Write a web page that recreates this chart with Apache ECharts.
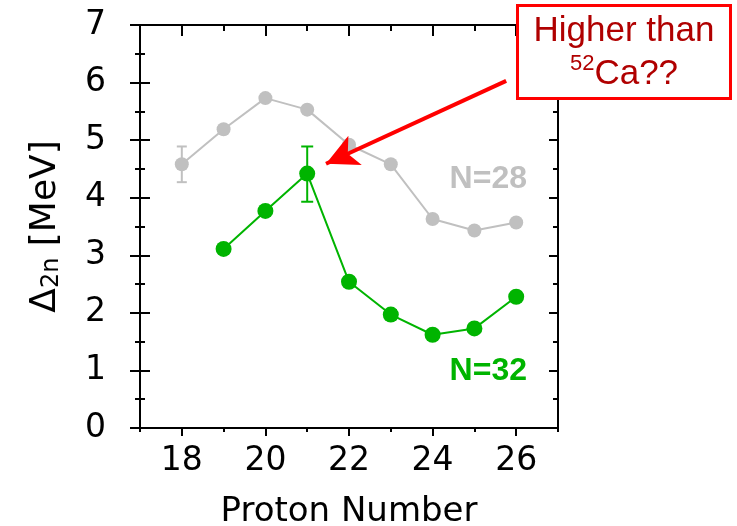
<!DOCTYPE html>
<html><head><meta charset="utf-8">
<script src="https://cdn.jsdelivr.net/npm/echarts@6/dist/echarts.min.js"></script>
<style>html,body{margin:0;padding:0;background:#fff}#c{width:737px;height:526px}</style>
</head><body><div id="c"></div>
<script>
// Data
const protonsN28 = [18, 19, 20, 21, 22, 23, 24, 25, 26];
const deltaN28 = [4.58, 5.19, 5.73, 5.53, 4.92, 4.58, 3.63, 3.43, 3.57];
const errLoN28 = [0.31, 0, 0, 0, 0, 0, 0, 0, 0];
const errHiN28 = [0.31, 0, 0, 0, 0, 0, 0, 0, 0];
const protonsN32 = [19, 20, 21, 22, 23, 24, 25, 26];
const deltaN32 = [3.11, 3.77, 4.42, 2.54, 1.97, 1.62, 1.73, 2.28];
const errLoN32 = [0.06, 0.05, 0.49, 0.06, 0.08, 0.04, 0.04, 0.03];
const errHiN32 = [0.06, 0.05, 0.47, 0.06, 0.08, 0.04, 0.04, 0.03];
const xTickCats = ['17', '18', '19', '20', '21', '22', '23', '24', '25', '26', '27'];
const arrowFrom = [25.76, 6.03];
const arrowTo = [21.45, 4.59];

const GRAY = '#c0c0c0', GREEN = '#00b400', RED = '#ff0000', DARKRED = '#b00000';
const FONT = 'DejaVu Sans';

function pts(xs, ys) { return xs.map((x, i) => [x, ys[i]]); }
function errData(xs, ys, lo, hi) { return xs.map((x, i) => [x, ys[i] - lo[i], ys[i] + hi[i]]); }
function errSeries(data, color, w) {
  return {
    type: 'custom', xAxisIndex: 0, yAxisIndex: 0, data: data, z: 3, silent: true,
    renderItem: function (params, api) {
      const x = api.value(0), lo = api.value(1), hi = api.value(2);
      if (hi - lo <= 0) return null;
      const p1 = api.coord([x, lo]), p2 = api.coord([x, hi]);
      const st = { stroke: color, lineWidth: 2 };
      return { type: 'group', children: [
        { type: 'line', shape: { x1: p1[0], y1: p1[1], x2: p2[0], y2: p2[1] }, style: st },
        { type: 'line', shape: { x1: p1[0] - w, y1: p1[1], x2: p1[0] + w, y2: p1[1] }, style: st },
        { type: 'line', shape: { x1: p2[0] - w, y1: p2[1], x2: p2[0] + w, y2: p2[1] }, style: st }
      ]};
    }
  };
}

const tickStyle = { color: '#000', width: 2 };
const axisLine = { show: true, lineStyle: { color: '#000', width: 2 } };
const isMajor = (i) => i % 2 === 1;   // 18, 20, 22, 24, 26
const isMinor = (i) => i % 2 === 0;   // 17, 19, ..., 27
function catAx(pos, showLine, filter, len, inside, extra) {
  return Object.assign({
    type: 'category', data: xTickCats, boundaryGap: false, position: pos,
    splitLine: { show: false },
    axisLine: showLine ? axisLine : { show: false },
    axisTick: { show: true, inside: inside, length: len, interval: filter, lineStyle: tickStyle },
    axisLabel: { show: false }
  }, extra || {});
}
function yAx(pos, showLine, len, inside, extra) {
  return Object.assign({
    type: 'value', min: 0, max: 7, interval: 1, position: pos, splitLine: { show: false },
    axisLine: showLine ? axisLine : { show: false },
    axisTick: { show: true, inside: inside, length: len, lineStyle: tickStyle },
    minorTick: { show: true, splitNumber: 2, length: Math.round(len / 2), lineStyle: tickStyle },
    axisLabel: { show: false }
  }, extra || {});
}

const chart = echarts.init(document.getElementById('c'));
chart.setOption({
  animation: false,
  backgroundColor: '#fff',
  grid: { left: 140, right: 179, top: 25, bottom: 98, outerBoundsMode: 'none', containLabel: false },
  xAxis: [
    { type: 'value', min: 17, max: 27, position: 'bottom', show: false },
    catAx('bottom', true, isMajor, 8, false, {
      axisLabel: { show: true, interval: isMajor, fontSize: 33, fontFamily: FONT, color: '#000', margin: 17 },
      name: 'Proton Number', nameLocation: 'middle', nameGap: 67,
      nameTextStyle: { fontSize: 34, fontFamily: FONT, color: '#000' }
    }),
    catAx('bottom', false, isMinor, 4, false),
    catAx('top', true, isMajor, 11, true),
    catAx('top', false, isMinor, 6, true)
  ],
  yAxis: [
    yAx('left', true, 10, false, {
      axisLabel: { show: true, fontSize: 33, fontFamily: FONT, color: '#000', margin: 34 },
      name: '{d|Δ}{s|2n}{d| [MeV]}', nameLocation: 'middle', nameGap: 76, nameRotate: 90,
      nameTextStyle: {
        fontSize: 36, fontFamily: FONT, color: '#000',
        rich: {
          d: { fontSize: 36, fontFamily: FONT, color: '#000', lineHeight: 36, verticalAlign: 'top' },
          s: { fontSize: 24, fontFamily: FONT, color: '#000', lineHeight: 24, verticalAlign: 'bottom', padding: [16, 0, 0, 0] }
        }
      }
    }),
    yAx('right', true, 9, true),
    yAx('left', false, 10, true)
  ],
  series: [
    {
      type: 'line', name: 'N=28', xAxisIndex: 0, yAxisIndex: 0, data: pts(protonsN28, deltaN28),
      symbol: 'circle', symbolSize: 14, itemStyle: { color: GRAY },
      lineStyle: { color: GRAY, width: 2 }, z: 2
    },
    errSeries(errData(protonsN28, deltaN28, errLoN28, errHiN28), GRAY, 5),
    {
      type: 'line', name: 'N=32', xAxisIndex: 0, yAxisIndex: 0, data: pts(protonsN32, deltaN32),
      symbol: 'circle', symbolSize: 16, itemStyle: { color: GREEN },
      lineStyle: { color: GREEN, width: 2 }, z: 4,
      markLine: {
        silent: true, animation: false, symbol: ['none', 'arrow'], symbolSize: [24, 32],
        label: { show: false },
        lineStyle: { color: RED, width: 4, type: 'solid' },
        data: [[{ coord: arrowFrom }, { coord: arrowTo }]]
      }
    },
    errSeries(errData(protonsN32, deltaN32, errLoN32, errHiN32), GREEN, 6)
  ],
  graphic: [
    { type: 'text', right: 737 - 527, top: 163, z: 10,
      style: { text: 'N=28', fill: GRAY, font: 'bold 32px "Liberation Sans", Arial, sans-serif' } },
    { type: 'text', right: 737 - 527, top: 355, z: 10,
      style: { text: 'N=32', fill: GREEN, font: 'bold 32px "Liberation Sans", Arial, sans-serif' } },
    { type: 'rect', z: 20, shape: { x: 517.5, y: 5.5, width: 213, height: 93 },
      style: { fill: '#fff', stroke: RED, lineWidth: 3 } },
    { type: 'text', z: 21, x: 624, y: 10,
      style: {
        text: '{a|Higher than}\n{s|52}{a|Ca??}', align: 'center', verticalAlign: 'top',
        rich: {
          a: { fontSize: 35, fontFamily: 'Liberation Sans', fill: DARKRED, lineHeight: 43 },
          s: { fontSize: 22, fontFamily: 'Liberation Sans', fill: DARKRED, lineHeight: 43, verticalAlign: 'top', padding: [0, 0, 10, 0] }
        }
      } }
  ]
});
</script></body></html>
